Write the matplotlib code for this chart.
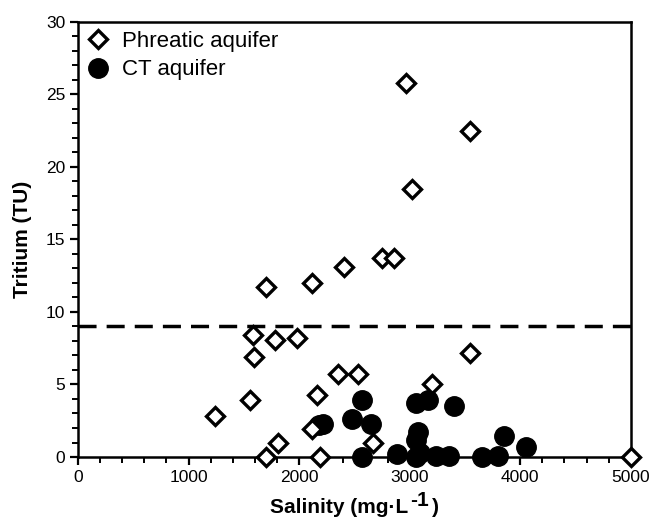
import matplotlib
matplotlib.use("Agg")
import matplotlib.pyplot as plt
from matplotlib.ticker import MultipleLocator

plt.rcParams["font.family"] = ["Liberation Sans", "DejaVu Sans"]

# phreatic aquifer samples (salinity mg/L, tritium TU)
phr_sal = [1240, 1560, 1590, 1585, 1785, 1985, 1700, 2115, 2410, 2750, 2860,
           2970, 3020, 3550, 2350, 2535, 2165, 2115, 1805, 1705, 2190, 2665,
           3550, 3200, 5000]
phr_tri = [2.8, 3.9, 6.9, 8.4, 8.1, 8.2, 11.7, 12.0, 13.1, 13.7, 13.7,
           25.8, 18.5, 22.5, 5.7, 5.7, 4.3, 1.9, 1.0, 0.0, 0.0, 1.0,
           7.15, 5.0, 0.0]

# CT aquifer samples
ct_sal = [2180, 2220, 2565, 2480, 2650, 2565, 3055, 3170, 3400, 3075, 3060,
          2890, 3090, 3060, 3240, 3360, 3655, 3800, 3855, 4050]
ct_tri = [2.2, 2.3, 3.95, 2.6, 2.3, 0.0, 3.7, 3.95, 3.5, 1.75, 1.2,
          0.2, 0.25, 0.0, 0.05, 0.05, 0.0, 0.05, 1.45, 0.7]

threshold = 9

fig = plt.figure(figsize=(6.55, 5.25), dpi=100)
ax = fig.add_axes([0.119, 0.1295, 0.844, 0.829])

ax.axhline(threshold, color="black", lw=2.5, ls=(0, (5.2, 2.9)), zorder=1)
ax.plot(phr_sal, phr_tri, "D", ms=9.5, mfc="white", mec="black", mew=2.4,
        ls="none", clip_on=False, zorder=3, label="Phreatic aquifer")
ax.plot(ct_sal, ct_tri, "o", ms=14, mfc="black", mec="black",
        ls="none", clip_on=False, zorder=2, label="CT aquifer")

ax.set_xlim(0, 5000)
ax.set_ylim(0, 30)
ax.xaxis.set_major_locator(MultipleLocator(1000))
ax.xaxis.set_minor_locator(MultipleLocator(200))
ax.yaxis.set_major_locator(MultipleLocator(5))
ax.yaxis.set_minor_locator(MultipleLocator(1))
ax.tick_params(which="major", length=6, width=1.6, labelsize=12.5, pad=3)
ax.tick_params(which="minor", length=4, width=1.4)
for s in ax.spines.values():
    s.set_linewidth(1.8)

ax.set_ylabel("Tritium (TU)", fontsize=15, fontweight="bold", labelpad=10)

# x label with a full size superscript, built from pieces
lab = dict(fontsize=15, fontweight="bold")
t1 = fig.text(0.0, 0.022, "Salinity (mg·L", **lab)
t2 = fig.text(0.0, 0.036, "-1", **lab)
t3 = fig.text(0.0, 0.022, ")", **lab)
fig.canvas.draw()
r = fig.canvas.get_renderer()
w1 = t1.get_window_extent(r).width
w2 = t2.get_window_extent(r).width
w3 = t3.get_window_extent(r).width
W = fig.bbox.width
x0 = (78 + 631) / 2 / W - (w1 + w2 + w3 + 6) / 2 / W
t1.set_x(x0)
t2.set_x(x0 + (w1 + 2) / W)
t3.set_x(x0 + (w1 + w2 + 5) / W)

leg = ax.legend(loc="upper left", frameon=False, fontsize=16,
                handletextpad=0.6, borderaxespad=0.2, labelspacing=0.35,
                handlelength=1.0, borderpad=0.2)

fig.savefig("out.png", dpi=100)
